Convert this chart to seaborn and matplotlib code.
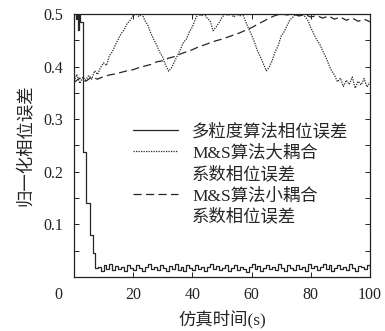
import matplotlib
matplotlib.use('Agg')
import matplotlib.pyplot as plt
import matplotlib.transforms as mtransforms
from matplotlib.lines import Line2D
from matplotlib.ticker import MultipleLocator
import seaborn as sns
import pandas as pd

sns.set_style('ticks')
plt.rcParams['font.family'] = ['Liberation Serif', 'Noto Sans CJK SC']
plt.rcParams['axes.unicode_minus'] = False

# multi-granularity algorithm phase error (step trace)
solid_x = [0, 0.6, 1.0, 1.4, 1.8, 2.2, 3.0, 4.0, 5.3, 6.3, 7.0]
solid_y = [0.5, 0.49, 0.5, 0.47, 0.5, 0.485, 0.237, 0.14, 0.08, 0.045, 0.017]
solid_tail = [0.020, 0.012, 0.022, 0.015, 0.024, 0.013, 0.021, 0.016, 0.019, 0.012,
              0.023, 0.018, 0.014, 0.022, 0.017, 0.012, 0.019, 0.024, 0.015, 0.020,
              0.013, 0.022, 0.017, 0.011, 0.021, 0.016, 0.024, 0.014, 0.019, 0.012,
              0.022, 0.018, 0.013, 0.023, 0.016, 0.020, 0.011, 0.019, 0.024, 0.015,
              0.021, 0.013, 0.018, 0.022, 0.012, 0.017, 0.023, 0.014, 0.020, 0.016,
              0.010, 0.019, 0.025, 0.015, 0.021, 0.012, 0.018, 0.023, 0.016, 0.020,
              0.013, 0.024, 0.017, 0.011, 0.022, 0.018, 0.014, 0.023, 0.016, 0.020,
              0.012, 0.025, 0.017, 0.021, 0.013, 0.019, 0.024, 0.015, 0.022, 0.011,
              0.018, 0.023, 0.016, 0.020, 0.013, 0.024, 0.017, 0.012, 0.021, 0.019,
              0.015, 0.023, 0.018]
solid_x = solid_x + list(range(8, 8 + len(solid_tail)))
solid_y = solid_y + solid_tail

# M&S, large coupling coefficient (dotted)
big_x = list(range(0, 101))
big_y = [0.372, 0.385, 0.368, 0.380, 0.374, 0.383, 0.376, 0.392, 0.385, 0.398,
         0.407, 0.402, 0.421, 0.428, 0.441, 0.452, 0.463, 0.470, 0.482, 0.488,
         0.497, 0.500, 0.495, 0.500, 0.487, 0.478, 0.463, 0.451, 0.440, 0.427,
         0.418, 0.402, 0.391, 0.398, 0.410, 0.421, 0.433, 0.446, 0.452, 0.466,
         0.475, 0.490, 0.500, 0.496, 0.500, 0.492, 0.487, 0.468, 0.475, 0.483,
         0.493, 0.500, 0.497, 0.500, 0.494, 0.500, 0.496, 0.500, 0.485, 0.472,
         0.460, 0.446, 0.430, 0.418, 0.405, 0.392, 0.399, 0.412, 0.428, 0.440,
         0.458, 0.466, 0.478, 0.489, 0.494, 0.500, 0.497, 0.500, 0.495, 0.488,
         0.474, 0.462, 0.451, 0.443, 0.430, 0.419, 0.405, 0.392, 0.384, 0.371,
         0.378, 0.362, 0.374, 0.366, 0.380, 0.359, 0.372, 0.365, 0.377, 0.361,
         0.370]

# M&S, small coupling coefficient (dashed)
small_x = list(range(0, 101, 2))
small_y = [0.370, 0.378, 0.372, 0.380, 0.376, 0.381, 0.384, 0.386, 0.389, 0.392,
           0.394, 0.398, 0.401, 0.404, 0.409, 0.411, 0.416, 0.419, 0.424, 0.428,
           0.432, 0.437, 0.441, 0.445, 0.449, 0.452, 0.456, 0.460, 0.464, 0.469,
           0.474, 0.480, 0.486, 0.492, 0.497, 0.500, 0.498, 0.500, 0.496, 0.499,
           0.494, 0.497, 0.492, 0.496, 0.490, 0.494, 0.488, 0.492, 0.486, 0.490,
           0.485]

labels = ['多粒度算法相位误差', 'M&S算法大耦合', '系数相位误差', 'M&S算法小耦合', '系数相位误差']
xticks = [0, 20, 40, 60, 80, 100]
yticks = [0.1, 0.2, 0.3, 0.4, 0.5]

col = '#262626'
dotted = (0, (1.0, 1.0))
dashed = (0, (6.5, 3.5))

fig = plt.figure(figsize=(3.85, 3.31), dpi=100)
ax = fig.add_axes([0.192, 0.163, 0.769, 0.795])

df_s = pd.DataFrame({'t': solid_x, 'e': solid_y})
df_b = pd.DataFrame({'t': big_x, 'e': big_y})
df_m = pd.DataFrame({'t': small_x, 'e': small_y})

sns.lineplot(data=df_s, x='t', y='e', ax=ax, color=col, lw=0.9,
             drawstyle='steps-post', estimator=None, sort=False)
sns.lineplot(data=df_b, x='t', y='e', ax=ax, color=col, lw=0.9,
             linestyle=dotted, estimator=None)
sns.lineplot(data=df_m, x='t', y='e', ax=ax, color=col, lw=0.9,
             linestyle=dashed, estimator=None)

ax.set_xlim(0, 100)
ax.set_ylim(0, 0.5)
ax.set_xticks(xticks)
ax.set_xticklabels([str(v) for v in xticks])
ax.set_yticks(yticks)
ax.set_yticklabels(['%.1f' % v for v in yticks])
ax.yaxis.set_minor_locator(MultipleLocator(0.05))
ax.tick_params(axis='both', which='both', direction='in', length=3.5, width=0.7,
               colors='#222222', labelsize=11.5, top=True, right=True)
ax.tick_params(axis='x', pad=7)
ax.tick_params(axis='y', pad=8)

# the "0" label sits left of the axis origin in the reference
shift = mtransforms.ScaledTranslation(-16 / 100, 0, fig.dpi_scale_trans)
lab0 = ax.get_xticklabels()[0]
lab0.set_transform(lab0.get_transform() + shift)

for s in ax.spines.values():
    s.set_linewidth(0.9)
    s.set_color('#222222')

ax.set_xlabel('仿真时间(s)', fontsize=12.5, labelpad=5)
ax.set_ylabel('归一化相位误差', fontsize=12.5, labelpad=6)

handles = [Line2D([], [], color=col, lw=0.9),
           Line2D([], [], color=col, lw=0.9, linestyle=dotted),
           Line2D([], [], color='none'),
           Line2D([], [], color=col, lw=0.9, linestyle=dashed),
           Line2D([], [], color='none')]
ax.legend(handles, labels, loc='upper left', bbox_to_anchor=(0.2, 0.585),
          frameon=False, fontsize=12.5, handlelength=2.6, handletextpad=0.8,
          labelspacing=0.28, borderpad=0, borderaxespad=0)

fig.savefig('out.png', dpi=100)
